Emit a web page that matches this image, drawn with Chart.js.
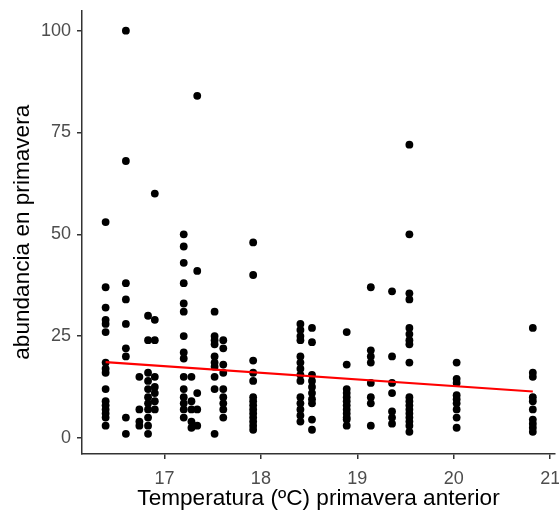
<!DOCTYPE html>
<html>
<head>
<meta charset="utf-8">
<script src="https://cdn.jsdelivr.net/npm/chart.js@4"></script>
<style>
  html, body { margin: 0; padding: 0; background: #fff; }
  #wrap { width: 559px; height: 514px; }
</style>
</head>
<body>
<div id="wrap"><canvas id="plot"></canvas></div>
<script>
// temperature of each sampling group (ºC, previous spring)
const temperatura = [16.39, 16.60, 16.74, 16.83, 16.90, 17.20, 17.28, 17.34, 17.52, 17.61,
                     17.92, 18.41, 18.53, 18.89, 19.14, 19.36, 19.54, 20.03, 20.82];
// spring abundance observed at each temperature
const abundancia = [
  [53, 37, 32, 29, 28, 26, 18.5, 17, 16, 12, 9, 8, 7, 6, 5, 3],
  [100, 68, 38, 34, 28, 22, 20, 5, 1],
  [15, 7, 4, 3],
  [30, 24, 16, 14, 12, 10, 8.5, 7, 5, 3, 1],
  [60, 29, 24, 15, 12.5, 11, 9, 7],
  [50, 47, 43, 38, 33, 31, 25, 21, 19.5, 15, 12, 10, 8.5, 7, 5],
  [15, 9, 7, 4, 2.5],
  [84, 41, 11, 7, 3],
  [31, 25, 24, 23, 20, 18.5, 17.5, 15, 12, 1],
  [24, 22, 18, 16, 12, 10, 8.5, 7, 5],
  [48, 40, 19, 16, 14, 10, 9, 8, 7, 6, 5, 4, 3, 2],
  [28, 26.5, 25, 24, 20, 18.5, 17, 15.5, 14, 10, 8.5, 7, 5.5, 4],
  [27, 23.5, 15.5, 14, 12.5, 11, 9.5, 8.5, 4.5, 2],
  [26, 18, 12, 11, 10, 9, 8, 7, 6, 5, 4.5, 3],
  [37, 21.5, 20, 18.5, 13.5, 10, 8.5, 3],
  [36, 20, 13.5, 11, 6.5, 5, 3.5],
  [72, 50, 35.5, 34, 27, 25.5, 24, 23, 18.5, 10, 9, 8, 7, 6, 5, 4, 3, 1.5],
  [18.5, 14.5, 13.5, 10.5, 9.5, 8.5, 7, 5, 2.5],
  [27, 16, 15, 10, 9, 7, 4.5, 3.5, 2.5, 1.5]
];
// fitted linear trend (endpoints)
const ajusteX = [16.39, 20.82];
const ajusteY = [18.6, 11.4];

const xTicks = [17, 18, 19, 20, 21];
const yTicks = [0, 25, 50, 75, 100];

const puntos = temperatura.flatMap((t, i) => abundancia[i].map(v => ({x: t, y: v})));
const ajuste = ajusteX.map((x, i) => ({x, y: ajusteY[i]}));

const FONT = "'Liberation Sans', Arial, sans-serif";
const AXIS = '#333333';

new Chart(document.getElementById('plot'), {
  type: 'scatter',
  data: {
    datasets: [
      {
        data: ajuste,
        showLine: true,
        borderColor: '#ff0000',
        borderWidth: 2.2,
        pointRadius: 0,
        order: 0
      },
      {
        data: puntos,
        backgroundColor: '#000000',
        borderWidth: 0,
        pointRadius: 3.9,
        order: 1
      }
    ]
  },
  options: {
    responsive: true,
    maintainAspectRatio: false,
    animation: false,
    layout: { padding: { left: 0, right: 4, top: 10.5, bottom: 0 } },
    plugins: { legend: { display: false }, tooltip: { enabled: false } },
    scales: {
      x: {
        type: 'linear',
        min: 16.145,
        max: 21.05,
        afterBuildTicks: s => { s.ticks = xTicks.map(v => ({value: v})); },
        // fixed axis height; let the last label run off the edge
        afterFit: s => { s.height = 60; s.paddingLeft = 0; s.paddingRight = 0; },
        grid: { display: true, drawOnChartArea: false, drawTicks: true, tickLength: 5, color: AXIS, lineWidth: 1.5 },
        border: { display: true, color: AXIS, width: 1.5 },
        ticks: { color: '#4d4d4d', padding: 9, font: { family: FONT, size: 18 }, maxRotation: 0 },
        title: {
          display: true,
          text: 'Temperatura (ºC) primavera anterior',
          color: '#000000',
          font: { family: FONT, size: 22.6 },
          padding: { top: 0, bottom: 1.5 }
        }
      },
      y: {
        type: 'linear',
        min: -3.95,
        max: 104.95,
        afterBuildTicks: s => { s.ticks = yTicks.map(v => ({value: v})); },
        afterFit: s => { s.width = 82; s.paddingTop = 0; s.paddingBottom = 0; },
        grid: { display: true, drawOnChartArea: false, drawTicks: true, tickLength: 5, color: AXIS, lineWidth: 1.5 },
        border: { display: true, color: AXIS, width: 1.5 },
        ticks: { color: '#4d4d4d', padding: 6, font: { family: FONT, size: 18 } },
        title: {
          display: true,
          text: 'abundancia en primavera',
          color: '#000000',
          font: { family: FONT, size: 22.6 },
          padding: { top: 9.5, bottom: 0 }
        }
      }
    }
  }
});
</script>
</body>
</html>
